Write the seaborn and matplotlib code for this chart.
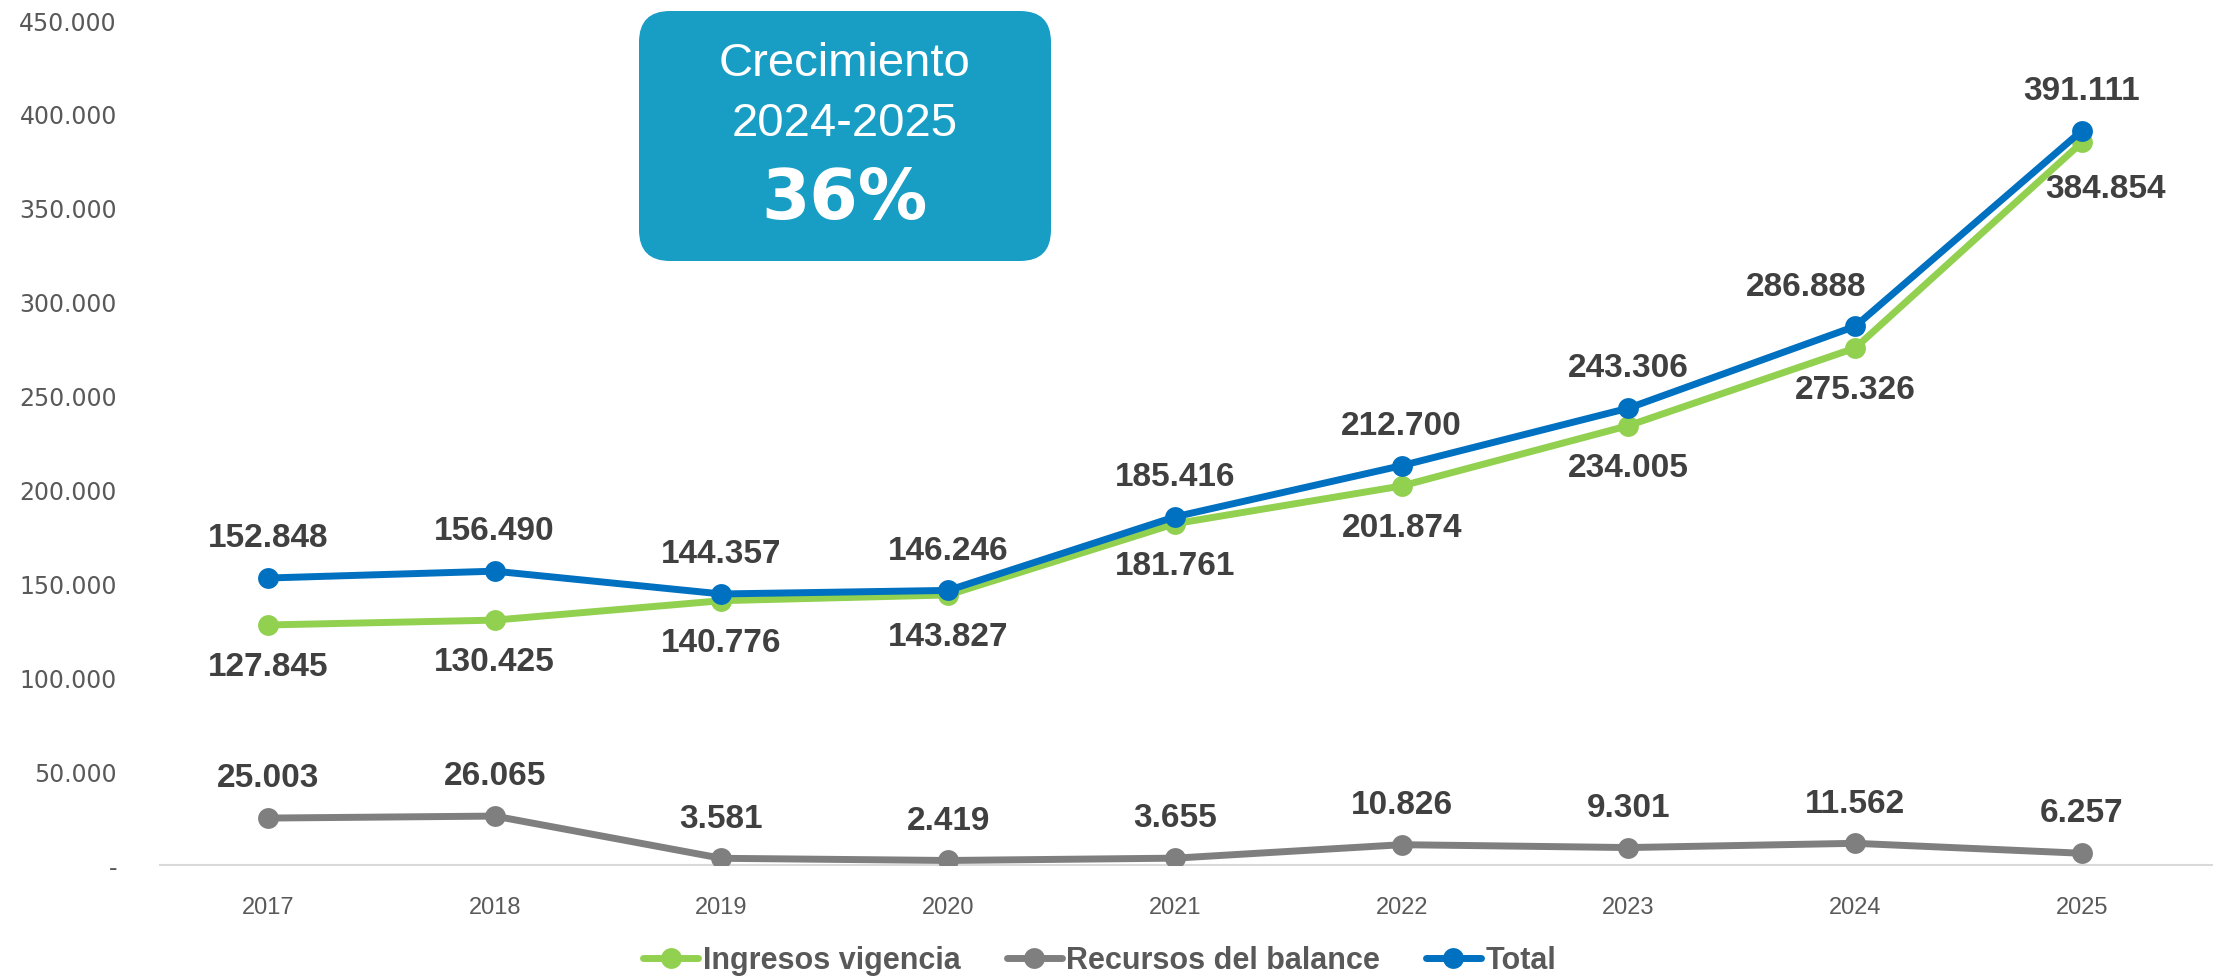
import numpy as np
import pandas as pd
import matplotlib.pyplot as plt
import seaborn as sns
from matplotlib.patches import FancyBboxPatch
from matplotlib.lines import Line2D

# ── data ──────────────────────────────────
years = [2017, 2018, 2019, 2020, 2021, 2022, 2023, 2024, 2025]
ingresos = [127845, 130425, 140776, 143827, 181761, 201874, 234005, 275326, 384854]
recursos = [25003, 26065, 3581, 2419, 3655, 10826, 9301, 11562, 6257]
total = [152848, 156490, 144357, 146246, 185416, 212700, 243306, 286888, 391111]

series_names = ['Ingresos vigencia', 'Recursos del balance', 'Total']
series_colors = ['#92D050', '#7F7F7F', '#0070C0']
y_ticks = [0, 50000, 100000, 150000, 200000, 250000, 300000, 350000, 400000, 450000]
box_lines = ['Crecimiento', '2024-2025', '36%']

df = pd.DataFrame({'Año': years, series_names[0]: ingresos,
                   series_names[1]: recursos, series_names[2]: total})
long = df.melt(id_vars='Año', var_name='Serie', value_name='Valor')

def fmt(v):
    return f"{v:,}".replace(",", ".")

# ── figure ────────────────────────────────
sns.set_style('white')
narrow = ['Liberation Sans Narrow', 'Liberation Sans', 'DejaVu Sans']
plt.rcParams['font.family'] = narrow

fig = plt.figure(figsize=(22.13, 9.79), dpi=100)
ax = fig.add_axes([0.0723, 0.1154, 0.9277, 0.8631])

sns.lineplot(data=long, x='Año', y='Valor', hue='Serie', palette=series_colors,
             hue_order=series_names, marker='o', markersize=15, linewidth=5,
             markeredgewidth=0, ax=ax, legend=False)

ax.set_xlim(2016.524, 2025.578)
ax.set_ylim(0, 450000)
ax.set_xticks(years)
ax.set_xticklabels([str(y) for y in years], fontsize=17, color='#595959')
ax.set_yticks(y_ticks)
ax.set_yticklabels(['-'] + [fmt(t) for t in y_ticks[1:]], fontsize=17,
                   color='#595959', family='DejaVu Sans')
ax.tick_params(axis='both', length=0)
ax.tick_params(axis='x', pad=22)
ax.tick_params(axis='y', pad=31)
ax.set_xlabel('')
ax.set_ylabel('')
for s in ['top', 'right', 'left']:
    ax.spines[s].set_visible(False)
ax.spines['bottom'].set_color('#D9D9D9')
ax.spines['bottom'].set_linewidth(1.5)
ax.spines['bottom'].set_zorder(0)

# ── data labels ───────────────────────────
lab = dict(fontsize=24, fontweight='bold', color='#404040', ha='center', va='center',
           textcoords='offset points')
for i, yr in enumerate(years):
    # total above (2024 nudged left like the original)
    dx_tot = -35 if yr == 2024 else 0
    ax.annotate(fmt(total[i]), (yr, total[i]), xytext=(dx_tot, 29), **lab)
    # ingresos below
    if yr == 2025:
        ax.annotate(fmt(ingresos[i]), (yr, ingresos[i]), xytext=(17, -33), **lab)
    else:
        ax.annotate(fmt(ingresos[i]), (yr, ingresos[i]), xytext=(0, -30), **lab)
    # recursos above
    ax.annotate(fmt(recursos[i]), (yr, recursos[i]), xytext=(0, 29), **lab)

# ── growth box ────────────────────────────
W, H = 2213, 979
bx0, by0, bx1, by1 = 639, 12, 1051, 262
box = FancyBboxPatch((bx0 / W, 1 - by1 / H), (bx1 - bx0) / W, (by1 - by0) / H,
                     boxstyle='round,pad=0,rounding_size=0.014',
                     transform=fig.transFigure, facecolor='#189EC4',
                     edgecolor='none', zorder=5, mutation_aspect=W / H)
fig.patches.append(box)
cx = 845 / W
fig.text(cx, 1 - 64 / H, box_lines[0], color='white', fontsize=34,
         family='Liberation Sans', ha='center', va='center', zorder=6)
fig.text(cx, 1 - 124 / H, box_lines[1], color='white', fontsize=34,
         family='Liberation Sans', ha='center', va='center', zorder=6)
fig.text(cx, 1 - 200 / H, box_lines[2], color='white', fontsize=50,
         family='DejaVu Sans', fontweight='heavy', ha='center', va='center', zorder=6)

# ── legend ────────────────────────────────
handles = [Line2D([0], [0], color=c, lw=5, marker='o', markersize=15,
                  markeredgewidth=0) for c in series_colors]
leg = fig.legend(handles, series_names, loc='center', bbox_to_anchor=(0.497, 0.018),
                 ncol=3, frameon=False, handlelength=1.8, handletextpad=0.15,
                 columnspacing=1.5, prop={'family': narrow, 'weight': 'bold', 'size': 22})
for t in leg.get_texts():
    t.set_color('#595959')

fig.savefig('out.png', dpi=100)
